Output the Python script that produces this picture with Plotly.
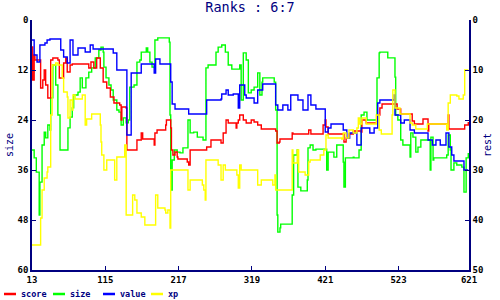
import plotly.graph_objects as go

# ---- data ----
x_ticks = [13, 115, 217, 319, 421, 523, 621]
series_names = ["score", "size", "value", "xp"]

value_x = [13,16,20,24,31,34,38,52,53,57,62,66,70,77,87,94,98,122,126,131,144,145,149,151,159,165,179,183,185,191,205,206,208,212,230,231,255,256,276,277,283,286,293,300,302,309,311,322,327,334,350,352,355,362,369,373,383,390,397,401,408,419,421,425,429,444,446,451,455,465,471,483,489,494,497,514,517,518,526,531,539,545,563,564,570,575,581,589,593,597,600,611,614,620]
value_y = [4,7,8.4,5,4.6,4,3.8,3.8,6,7.4,8.6,4,7,5.6,6.4,5,5.8,5.8,6.6,10,10,23,23,10.6,10.6,8.8,8.8,10.6,7.8,8.8,8.8,12.4,16.8,17.8,17.8,18.8,18.8,16,15.8,14.8,14,15,14.8,17.6,13,15,15.6,16.6,14,12.8,12.8,17,18,17,18,15,16,18,15,17,17.8,17.8,22.4,21.6,20.8,20.8,22,23.6,22.6,25,21.6,22.6,21.6,16.6,16,16,15,19,20.6,20,22,22.6,22.6,24,25,24,25,22.6,25.4,27,28.2,28.2,30,30]

score_x = [13,14,16,17,24,25,28,30,32,35,39,42,46,49,51,56,57,60,62,66,69,91,92,95,99,103,108,112,117,122,127,135,137,138,144,145,158,159,163,165,167,181,183,184,187,198,199,200,205,206,207,209,212,215,216,226,229,231,233,255,256,262,272,276,279,283,286,295,297,298,300,302,307,311,318,322,327,332,350,352,354,357,358,373,375,376,397,398,401,416,418,421,422,425,446,447,450,454,460,471,472,478,492,493,497,500,520,521,526,540,542,545,556,557,563,564,565,590,592,593,614,615,620]
score_y = [5.4,12,7,8,8,13.6,12,10,13,15.6,8,7.6,7.6,8,11.6,11.6,8.6,7.6,10.4,9,8.8,8.8,9.6,8.4,9.6,7.6,9.6,12.4,13.6,15.4,16.6,17,20,17.4,17.6,26,26,24,24,22.6,23.8,23.8,25,22.6,22,22,21,20,20,21.6,26,27,26.4,27.4,27.8,27.8,28.4,29,26,26,25.4,24,24,24.6,22.6,20,20.6,20.6,21.6,20.6,20,19,20,20.6,20,20.4,21,21.8,21.8,22.2,24.6,24.4,23.8,23.8,22.6,22.8,22.8,22,22.8,22.8,21,20,21.4,22.8,22.8,24.4,23.6,22.8,22.2,22.4,20,20.6,20.6,19,17.6,16.8,16.8,17.8,18.8,18.8,20.2,20.8,20.8,19.8,19.8,22.2,20.8,20.8,19,21.8,21.8,21,20.4]

size_x = [13,16,19,23,24,27,30,32,35,38,39,42,45,46,49,52,62,63,66,69,71,77,80,83,88,92,96,101,106,109,112,113,116,120,123,126,131,134,137,140,144,147,149,155,159,163,165,172,174,177,180,184,188,202,204,205,206,208,211,215,219,223,229,230,233,238,243,251,255,258,265,269,272,277,282,286,291,300,302,304,307,311,314,318,322,327,330,333,334,348,350,352,354,355,358,359,373,375,377,382,383,387,394,396,397,400,404,408,422,423,425,432,433,436,437,444,446,447,449,460,461,468,471,475,479,492,493,496,497,507,508,517,518,519,522,526,529,537,539,540,543,547,550,554,565,567,568,571,572,586,590,592,595,596,600,604,611,614,617,620]
size_y = [31.2,33.1,36.5,46.8,38.9,30,26.9,28.3,25.2,26.4,18.7,10.8,10.8,15.6,22.8,31.2,31.2,25.9,23.3,21.1,18,17.3,13.9,16.3,13.9,12.5,11.5,9.1,7.2,6.5,7.7,11.3,13.9,15.6,16.8,19.2,21.6,22.1,25.2,23.5,24.7,24,16.1,15.6,10.1,9.6,7.7,6.7,7.7,10.1,11.3,4.8,4.3,4.3,5.3,22.8,40.8,33.6,31.2,31.7,31.9,30.7,30.7,24,27.1,26.9,28.1,28.8,11.5,10.8,10.8,7.7,6.5,6,7.7,10.8,11.8,11.8,10.8,19.2,7.9,9.6,17.5,16.8,16.1,12.7,18,14.9,13.9,13.9,14.9,21.6,46.8,50.9,49.9,49,49,42,32.4,31.2,40.1,41,41,38.4,30.7,30,31.2,31,31,36,31.7,31.7,32.9,32.9,30,30,34.1,40.1,33.1,32.9,33.1,31.2,22.8,22.1,24,24,13.9,7.9,7.7,7.7,9.1,9.1,13.7,22.8,24,28.8,30,30,32.9,27.1,28.1,31.7,30.5,28.8,28.8,36,28.1,33.6,33.1,33.1,32.4,27.6,31.2,36,34.3,34.8,35.3,41.3,33.1,31.9]

xp_x = [13,24,25,27,30,34,35,38,39,41,46,49,55,57,62,63,66,69,70,73,81,83,87,89,95,96,105,108,109,110,113,117,126,128,131,135,142,144,151,153,156,159,165,170,184,185,188,198,199,202,205,206,226,230,233,247,250,252,254,255,269,272,276,279,282,295,298,300,302,304,326,327,332,346,348,351,352,373,375,376,380,382,384,391,393,397,398,400,412,414,418,419,422,425,444,446,450,454,460,465,467,469,472,478,490,492,496,499,512,514,515,518,524,525,538,539,542,547,561,563,589,590,592,595,604,607,611,613,615,620]
xp_y = [45,45,39.6,34,31.6,30.4,29.4,29.4,19,9,8.6,9,11.6,14.4,15.4,19.6,16,18,15,15.8,15.8,15,21,19.8,19.8,18.8,18.8,21,24.4,27,30,28,28,32,27.4,27.4,25,39,39,35,36,38.6,39.4,41,41,35,37.6,38,38.6,38,41.6,30,30,34,32,32,33,34,36,28,28,29,32,29,30,30,31,33.6,29,30,30,33,32,32,33,31,34,34,26,28.6,28.6,26,30.4,30.4,31,31,28.4,28,28,27,27,26,23,23.6,23.8,22.6,23.6,22,22.6,21.6,19.6,20.8,19.6,20.8,20.8,19,22,22.8,22.8,19,14,17.6,17.6,18.8,18.8,20.6,21,21.8,21.8,20.8,20.8,22,16.6,15,15.2,15.8,15.8,15,10,10]

NAVY = "#000080"
MONO = "DejaVu Sans Mono"
COLORS = {"score": "#ff0000", "size": "#00ff00", "value": "#0000ff", "xp": "#ffff00"}

fig = go.Figure()
fig.add_trace(go.Scatter(x=score_x, y=score_y, name="score", yaxis="y2",
                         mode="lines", line=dict(color=COLORS["score"], width=1.4, shape="hv")))
fig.add_trace(go.Scatter(x=size_x, y=size_y, name="size", yaxis="y",
                         mode="lines", line=dict(color=COLORS["size"], width=1.4, shape="hv")))
fig.add_trace(go.Scatter(x=value_x, y=value_y, name="value", yaxis="y2",
                         mode="lines", line=dict(color=COLORS["value"], width=1.4, shape="hv")))
fig.add_trace(go.Scatter(x=xp_x, y=xp_y, name="xp", yaxis="y2",
                         mode="lines", line=dict(color=COLORS["xp"], width=1.4, shape="hv")))

axis_common = dict(showgrid=False, zeroline=False, showline=True, linecolor=NAVY,
                   linewidth=1.5, ticks="inside", ticklen=4, tickcolor=NAVY,
                   tickfont=dict(family=MONO, size=9, color="#000000", weight="bold"))

# compact legend drawn as short line samples + labels below the plot
PLOT_W, PLOT_H, ML = 437.0, 250.0, 32.0
legend_left_px = [4, 53, 103, 151]
legend_y = -(294 - 270) / PLOT_H
shapes, annotations = [], []
for name, lx in zip(series_names, legend_left_px):
    shapes.append(dict(type="line", xref="paper", yref="paper",
                       x0=(lx - ML) / PLOT_W, x1=(lx + 12 - ML) / PLOT_W,
                       y0=legend_y, y1=legend_y,
                       line=dict(color=COLORS[name], width=2.5)))
    annotations.append(dict(text=name, xref="paper", yref="paper",
                            x=(lx + 15 - ML) / PLOT_W, y=legend_y,
                            xanchor="left", yanchor="middle", showarrow=False,
                            font=dict(family=MONO, size=8.5, color=NAVY, weight="bold")))

fig.update_layout(
    width=500, height=300,
    margin=dict(l=32, r=31, t=20, b=30, autoexpand=False),
    paper_bgcolor="white", plot_bgcolor="white",
    title=dict(text="Ranks : 6:7", x=0.5, xanchor="center", y=0.99, yanchor="top",
               font=dict(family=MONO, size=13.5, color=NAVY)),
    xaxis=dict(range=[13, 621], tickvals=x_ticks, ticktext=[str(t) for t in x_ticks],
               automargin=False, **axis_common),
    yaxis=dict(range=[60, 0], tickvals=[0, 12, 24, 36, 48, 60], automargin=False,
               title=dict(text="size", font=dict(family=MONO, size=10, color=NAVY), standoff=2),
               **axis_common),
    yaxis2=dict(range=[50, 0], tickvals=[0, 10, 20, 30, 40, 50], overlaying="y", side="right",
                automargin=False,
                title=dict(text="rest", font=dict(family=MONO, size=10, color=NAVY), standoff=2),
                **axis_common),
    shapes=shapes,
    annotations=annotations,
    showlegend=False,
)

fig.write_html("out.html")
